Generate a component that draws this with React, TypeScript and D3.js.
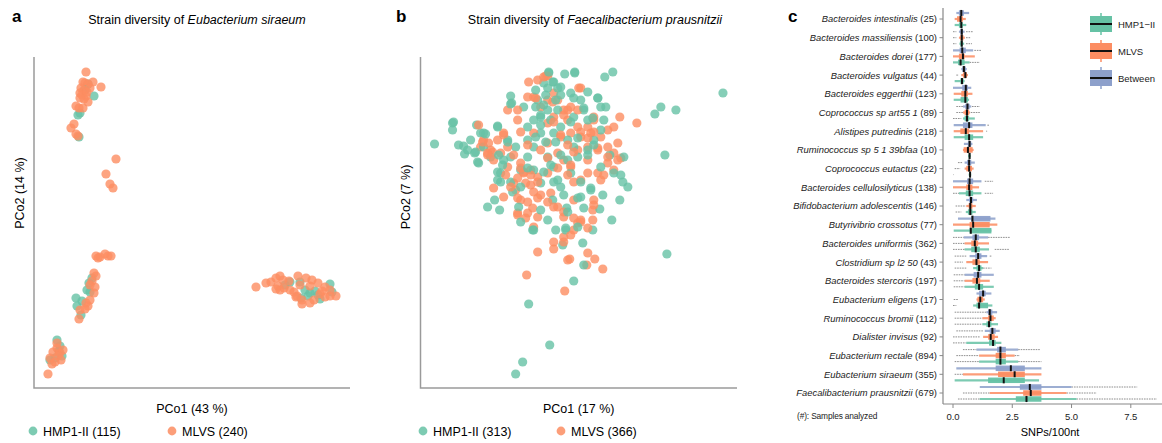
import React, { useRef, useEffect } from 'react';
import * as d3 from 'd3';

// ---------- panel a: E. siraeum PCoA scores (PCo1, PCo2) ----------
const hmpA: [number, number][] = [
  [0.54, 3.04], [0.60, 2.92], [0.44, 2.73], [0.45, 2.51], [0.51, 2.98], [0.46, 2.75],
  [0.58, 1.10], [0.55, 1.05], [0.42, 0.90], [0.53, 0.98], [0.43, 0.82], [0.47, 0.73], [0.48, 0.87], [0.56, 0.96],
  [0.23, 0.48], [0.26, 0.42], [0.16, 0.28], [0.21, 0.30], [0.28, 0.32], [0.25, 0.37],
  [2.56, 1.06], [2.66, 1.06], [2.71, 0.98], [2.76, 0.95], [2.81, 0.97], [2.84, 0.93], [2.86, 0.89],
  [2.96, 1.04], [2.98, 0.96], [2.67, 0.90], [2.51, 1.03], [2.74, 0.92],
];
const mlvsA: [number, number][] = [
  [0.52, 3.16], [0.49, 3.06], [0.51, 3.05], [0.54, 3.04], [0.59, 3.06], [0.67, 3.01], [0.47, 3.00],
  [0.50, 2.98], [0.46, 2.95], [0.48, 2.93], [0.52, 2.92], [0.50, 2.89], [0.54, 2.86], [0.42, 2.82],
  [0.45, 2.80], [0.49, 2.80], [0.40, 2.64], [0.37, 2.60], [0.42, 2.54], [0.44, 2.52], [0.46, 2.90],
  [0.53, 2.96], [0.56, 3.00],
  [0.82, 2.29], [0.72, 2.14], [0.76, 2.04], [0.79, 2.00],
  [0.62, 1.32], [0.66, 1.31], [0.71, 1.34], [0.74, 1.32], [0.77, 1.32], [0.64, 1.30], [0.60, 1.15],
  [0.62, 1.12], [0.58, 1.07], [0.56, 1.03], [0.61, 1.01], [0.60, 0.95], [0.56, 0.88], [0.52, 0.85],
  [0.54, 0.82], [0.51, 0.79], [0.46, 0.78], [0.45, 0.69],
  [0.23, 0.40], [0.19, 0.36], [0.26, 0.35], [0.29, 0.38], [0.24, 0.32], [0.16, 0.30], [0.18, 0.24],
  [0.27, 0.28], [0.14, 0.14], [0.23, 0.45], [0.21, 0.26],
  [2.22, 1.01], [2.32, 1.05], [2.37, 1.06], [2.42, 1.10], [2.46, 1.12], [2.49, 1.08], [2.44, 1.02],
  [2.50, 1.00], [2.55, 1.07], [2.64, 1.12], [2.72, 1.10], [2.78, 1.08], [2.84, 1.05], [2.91, 1.01],
  [2.96, 0.98], [3.02, 0.92], [2.96, 0.92], [2.91, 0.91], [2.86, 0.94], [2.80, 0.88], [2.76, 0.85],
  [2.68, 0.84], [2.63, 0.92], [2.68, 0.88], [2.56, 0.98], [2.60, 0.96], [2.46, 0.98], [2.42, 0.99],
  [2.66, 1.03], [2.76, 1.02], [2.88, 0.97], [2.62, 0.91],
];

// ---------- panel b: F. prausnitzii PCoA scores ----------
const hmpB: [number, number][] = [
  [0.14, 2.44], [0.32, 2.65], [0.32, 2.58], [0.43, 2.42], [0.44, 2.34], [3.02, 2.95], [2.40, 2.81],
  [2.34, 2.74], [2.55, 2.78], [2.44, 2.33], [2.46, 1.34], [1.92, 3.16], [1.84, 3.11], [1.44, 3.14],
  [1.54, 3.15], [1.28, 3.15], [1.08, 0.84], [1.29, 0.43], [1.02, 0.26], [0.95, 0.14], [1.53, 1.07],
  [1.63, 1.23], [1.62, 1.45], [1.42, 1.43], [1.99, 1.88], [1.91, 1.68], [2.07, 2.01], [2.02, 2.06],
  [2.00, 2.13], [2.03, 2.31], [1.89, 2.33], [1.82, 1.93], [1.79, 1.79], [1.72, 1.58], [0.67, 1.81],
  [0.79, 1.78], [0.74, 1.88], [0.90, 2.92], [0.91, 2.85], [0.56, 2.63], [0.77, 2.62], [0.60, 2.55],
  [0.54, 2.35], [0.58, 2.25], [0.80, 2.15], [0.90, 2.06], [0.98, 1.81], [1.12, 1.58], [1.20, 1.78],
  [1.27, 1.68], [1.35, 1.58], [1.45, 1.58], [1.46, 1.80], [1.32, 1.88], [1.60, 1.91], [1.70, 1.98],
  [1.40, 2.01], [1.33, 2.21], [1.20, 2.05], [1.07, 2.31], [1.13, 2.41], [1.20, 2.55], [1.07, 2.48],
  [1.03, 2.81], [1.17, 2.88], [1.23, 3.05], [1.33, 3.06], [1.40, 3.01], [1.50, 2.95], [1.60, 2.88],
  [1.77, 2.90], [1.80, 2.81], [1.85, 2.81], [1.63, 2.78], [1.53, 2.71], [1.37, 2.78], [1.27, 2.78],
  [1.20, 2.71], [1.33, 2.55], [1.47, 2.48], [1.53, 2.41], [1.67, 2.38], [1.80, 2.58], [1.83, 2.68],
  [1.73, 2.48], [0.95, 2.41], [0.83, 2.28], [0.70, 2.31], [0.63, 2.41], [0.47, 2.38], [0.63, 2.55],
  [1.80, 2.21], [1.93, 2.15], [1.47, 2.28], [1.37, 2.08], [1.50, 2.15], [1.13, 2.18], [1.00, 2.18],
  [0.90, 2.31], [0.77, 2.08], [0.87, 2.48], [1.27, 2.31], [1.07, 2.61], [1.40, 2.61], [1.67, 2.68],
  [1.57, 2.31], [1.13, 2.68], [1.25, 2.93], [1.35, 2.88], [1.30, 2.68], [1.15, 2.98], [0.50, 2.48],
  [0.38, 2.43],
  [1.28, 3.16], [1.54, 3.16], [0.90, 2.84], [0.33, 2.66], [0.55, 2.36], [0.57, 2.26], [0.65, 2.54],
  [0.77, 2.61], [0.87, 2.46], [0.78, 2.33], [0.82, 2.23], [0.77, 2.16], [0.80, 2.06], [0.92, 1.96],
  [1.00, 2.01], [1.07, 2.20], [1.15, 2.51], [1.20, 2.73], [1.23, 2.83], [1.15, 2.81], [1.27, 3.00],
  [1.32, 3.06], [1.37, 3.00], [1.40, 2.93], [1.20, 2.63], [1.25, 2.46], [1.35, 2.46], [1.40, 2.33],
  [1.30, 2.23], [1.23, 2.16], [1.33, 2.06], [1.43, 1.93], [1.57, 1.90], [1.47, 1.76], [1.60, 2.06],
  [1.67, 2.33], [1.73, 2.43], [1.57, 2.50], [1.50, 2.66], [1.63, 2.80], [1.53, 2.90], [1.67, 2.96],
  [1.77, 2.90], [1.72, 2.70], [1.70, 2.00], [1.63, 1.80], [1.57, 1.61], [1.45, 1.60], [1.13, 1.58],
  [1.00, 1.66],
];
const mlvsB: [number, number][] = [
  [2.16, 2.65], [1.99, 2.71], [1.93, 2.61], [1.97, 2.45], [1.93, 2.35], [2.00, 2.30], [1.87, 2.25],
  [1.93, 2.18], [1.77, 2.15], [1.83, 2.13], [1.73, 1.88], [1.72, 1.78], [1.72, 1.68], [1.60, 1.68],
  [1.57, 1.65], [1.53, 1.58], [1.82, 1.19], [1.74, 1.29], [1.66, 1.23], [1.67, 1.35], [1.49, 1.29],
  [1.47, 1.28], [1.44, 0.97], [1.33, 1.39], [1.17, 1.36], [1.06, 1.13], [1.13, 1.61], [1.12, 1.80],
  [1.17, 1.71], [1.07, 1.75], [0.97, 1.75], [1.00, 1.88], [0.83, 1.91], [0.73, 2.00], [0.93, 2.05],
  [1.03, 2.15], [1.00, 2.25], [1.10, 2.18], [1.17, 2.11], [1.27, 2.15], [1.30, 1.95], [1.37, 1.81],
  [1.43, 1.51], [1.43, 1.71], [1.53, 1.88], [1.60, 2.08], [1.67, 2.15], [1.50, 2.21], [1.43, 2.28],
  [1.57, 2.38], [1.67, 2.41], [1.77, 2.38], [1.87, 2.41], [1.80, 2.51], [1.70, 2.55], [1.60, 2.51],
  [1.50, 2.55], [1.40, 2.51], [1.47, 2.68], [1.57, 2.61], [1.67, 2.61], [1.73, 2.68], [1.87, 2.58],
  [1.43, 2.78], [1.33, 2.71], [1.27, 2.65], [1.20, 2.81], [1.13, 2.91], [1.07, 2.91], [1.08, 3.06],
  [1.17, 3.08], [1.23, 3.11], [1.27, 3.12], [1.27, 2.88], [1.33, 2.95], [1.37, 2.88], [1.50, 2.81],
  [1.60, 3.00], [1.57, 2.78], [0.97, 2.78], [0.87, 2.78], [0.97, 2.68], [0.83, 2.55], [0.77, 2.48],
  [0.70, 2.38], [0.80, 2.35], [0.87, 2.21], [0.63, 2.48], [0.60, 2.41], [0.67, 2.35], [0.73, 2.28],
  [0.58, 2.63], [1.13, 2.55], [1.20, 2.38], [1.27, 2.45], [1.37, 2.35], [1.67, 2.28], [1.87, 2.31],
  [1.97, 2.28], [1.80, 2.08], [1.05, 2.05], [0.95, 1.98], [1.10, 2.03], [0.85, 2.13], [1.20, 1.93],
  [1.25, 3.12], [1.15, 2.90], [1.32, 2.86], [1.47, 2.78], [1.58, 3.00], [1.73, 2.71], [0.62, 2.46],
  [0.68, 2.45], [0.72, 2.36], [0.67, 2.33], [0.83, 2.53], [0.87, 2.41], [0.93, 2.33], [1.00, 2.56],
  [1.07, 2.43], [1.00, 2.20], [1.03, 2.16], [1.10, 2.13], [0.97, 2.10], [1.17, 2.06], [1.13, 1.96],
  [1.17, 1.90], [0.97, 1.90], [1.07, 1.86], [0.90, 2.01], [1.27, 2.30], [1.37, 2.20], [1.50, 2.23],
  [1.47, 2.13], [1.53, 2.06], [1.40, 2.53], [1.47, 2.43], [1.53, 2.36], [1.60, 2.56], [1.67, 2.50],
  [1.73, 2.56], [1.77, 2.40], [1.43, 2.73], [1.33, 2.66], [1.27, 1.86], [1.33, 1.81], [1.43, 1.76],
  [1.53, 1.70], [1.50, 1.53], [1.60, 1.66], [1.67, 1.60], [1.73, 1.83], [0.97, 1.73], [1.05, 1.70],
  [1.33, 1.46], [1.43, 1.46],
];

// ---------- panel c: SNPs/100nt box stats [whiskerLo, q1, median, q3, whiskerHi] ----------
const species = [
  'Bacteroides intestinalis', 'Bacteroides massiliensis', 'Bacteroides dorei', 'Bacteroides vulgatus',
  'Bacteroides eggerthii', 'Coprococcus sp art55 1', 'Alistipes putredinis', 'Ruminococcus sp 5 1 39bfaa',
  'Coprococcus eutactus', 'Bacteroides cellulosilyticus', 'Bifidobacterium adolescentis',
  'Butyrivibrio crossotus', 'Bacteroides uniformis', 'Clostridium sp l2 50', 'Bacteroides stercoris',
  'Eubacterium eligens', 'Ruminococcus bromii', 'Dialister invisus', 'Eubacterium rectale',
  'Eubacterium siraeum', 'Faecalibacterium prausnitzii',
];
const nSamples = [25, 100, 177, 44, 123, 89, 218, 10, 22, 138, 146, 77, 362, 43, 197, 17, 112, 92, 894, 355, 679];

const betweenStats = [
  [0.14, 0.25, 0.35, 0.46, 0.68], [0.25, 0.31, 0.37, 0.42, 0.49], [0.0, 0.28, 0.39, 0.54, 0.85],
  [0.35, 0.39, 0.46, 0.54, 0.58], [0.0, 0.39, 0.54, 0.63, 0.77], [0.42, 0.52, 0.61, 0.7, 0.77],
  [0.03, 0.42, 0.68, 0.82, 1.38], [0.46, 0.63, 0.7, 0.77, 0.82], [0.49, 0.59, 0.68, 0.77, 0.92],
  [0.0, 0.59, 0.7, 0.85, 1.2], [0.56, 0.68, 0.76, 0.85, 1.01], [0.21, 0.77, 0.82, 1.58, 1.79],
  [0.45, 0.82, 0.96, 1.1, 1.48], [0.7, 0.94, 1.06, 1.2, 1.44], [0.49, 0.87, 1.06, 1.2, 1.72],
  [0.99, 1.1, 1.27, 1.38, 1.62], [1.41, 1.48, 1.55, 1.66, 1.86], [1.34, 1.55, 1.66, 1.8, 1.97],
  [0.99, 1.86, 2.0, 2.23, 2.75], [0.14, 1.8, 2.44, 3.03, 3.73], [1.13, 2.82, 3.24, 3.73, 5.0],
];
const mlvsStats = [
  [0.07, 0.17, 0.32, 0.42, 0.54], [0.25, 0.31, 0.37, 0.44, 0.5], [0.0, 0.25, 0.42, 0.49, 0.92],
  [0.35, 0.42, 0.52, 0.59, 0.63], [0.03, 0.35, 0.52, 0.63, 0.82], [0.42, 0.49, 0.59, 0.68, 0.72],
  [0.03, 0.31, 0.54, 0.68, 1.27], [0.42, 0.45, 0.63, 0.83, 0.87], [0.49, 0.56, 0.68, 0.8, 0.87],
  [0.0, 0.56, 0.68, 0.82, 1.1], [0.56, 0.66, 0.73, 0.82, 0.96], [0.0, 0.7, 0.85, 1.55, 1.87],
  [0.49, 0.77, 0.92, 1.06, 1.52], [0.56, 0.82, 0.99, 1.13, 1.48], [0.49, 0.82, 1.01, 1.15, 1.55],
  [0.99, 1.03, 1.15, 1.27, 1.34], [1.24, 1.48, 1.58, 1.72, 1.8], [1.27, 1.48, 1.59, 1.76, 1.9],
  [1.1, 1.8, 2.0, 2.23, 2.6], [0.42, 1.9, 2.6, 3.03, 3.73], [1.55, 2.96, 3.28, 3.73, 4.79],
];
const hmpStats = [
  [0.07, 0.25, 0.35, 0.42, 0.56], [0.27, 0.31, 0.37, 0.41, 0.47], [0.0, 0.21, 0.32, 0.49, 0.7],
  [0.07, 0.31, 0.38, 0.45, 0.49], [0.03, 0.32, 0.52, 0.63, 0.68], [0.42, 0.49, 0.59, 0.68, 0.92],
  [0.03, 0.49, 0.68, 0.85, 1.27], [0.64, 0.66, 0.7, 0.73, 0.75], [0.66, 0.68, 0.72, 0.75, 0.77],
  [0.25, 0.54, 0.7, 0.85, 1.2], [0.54, 0.63, 0.73, 0.82, 0.96], [0.03, 0.7, 0.75, 1.62, 1.62],
  [0.49, 0.77, 0.96, 1.13, 1.52], [0.85, 0.99, 1.1, 1.2, 1.27], [0.49, 0.92, 1.1, 1.27, 1.72],
  [0.85, 0.99, 1.1, 1.48, 1.66], [1.24, 1.41, 1.52, 1.62, 1.9], [0.56, 1.52, 1.69, 1.8, 2.04],
  [1.1, 1.8, 2.0, 2.23, 2.75], [0.07, 1.48, 2.14, 3.03, 3.63], [1.13, 2.65, 3.1, 3.73, 5.21],
];
// spans covered by (densely packed) outlier points
const betweenOut = [
  [], [[0.0, 0.14], [0.55, 0.85]], [[0.9, 1.2]], [], [], [[0.14, 0.42], [0.8, 1.13]], [[1.45, 1.52]], [],
  [[0.21, 0.42]], [[1.34, 1.69]], [], [], [[0.0, 0.45], [1.48, 2.39]], [[0.07, 0.56], [1.55, 1.62]],
  [[0.03, 0.49]], [], [[0.07, 1.41]], [[0.14, 1.27]], [[0.42, 0.99], [2.75, 3.66]], [], [[5.0, 7.77]],
];
const mlvsOut = [
  [], [[0.0, 0.14], [0.55, 0.75]], [], [[0.14, 0.25]], [], [[0.14, 0.42], [0.75, 1.13]], [[1.4, 1.44]], [],
  [[0.07, 0.3]], [], [[0.11, 0.54]], [], [[0.0, 0.49]], [[0.07, 0.42]], [[0.03, 0.49]], [[0.03, 0.21]],
  [[0.07, 1.24]], [[0.0, 1.13]], [[0.14, 1.1], [2.6, 2.82]], [[0.07, 0.42]], [[0.42, 1.55], [4.79, 6.06]],
];
const hmpOut = [
  [], [[0.0, 0.14], [0.55, 0.8]], [[0.7, 1.13]], [], [], [[0.0, 0.35]], [], [], [[0.0, 0.02]],
  [[0.0, 0.25], [1.34, 1.69]], [[0.11, 0.35]], [], [[0.0, 0.49], [1.76, 2.39]], [[0.07, 0.56], [1.27, 1.62]],
  [[0.03, 0.49]], [[0.0, 0.14]], [[0.07, 1.24]], [[0.0, 0.56]], [[0.07, 1.1], [2.75, 3.73]], [],
  [[0.21, 1.13], [5.21, 8.6]],
];
const snpTicks = [0, 2.5, 5, 7.5];

const GREEN = '#66c2a5';
const ORANGE = '#fc8d62';
const BLUE = '#8da0cb';
const FONT = '"Liberation Sans", Arial, Helvetica, sans-serif';

function scatterPanel(svg: any, o: any) {
  const x = d3.scaleLinear().domain([0, 3.16]).range([o.left, o.right]);
  const y = d3.scaleLinear().domain([0, 3.31]).range([388, 57]);
  const g = svg.append('g');

  g.append('text').attr('x', o.letterX).attr('y', 22).attr('font-size', 17).attr('font-weight', 'bold').text(o.letter);
  const t = g.append('text').attr('x', o.titleX).attr('y', 24).attr('font-size', 12.5).attr('text-anchor', 'middle');
  t.append('tspan').text('Strain diversity of ');
  t.append('tspan').attr('font-style', 'italic').text(o.species);

  // interleave the two cohorts so neither sits fully on top
  const pts: any[] = [];
  const n = Math.max(o.hmp.length, o.mlvs.length);
  for (let i = 0; i < n; i++) {
    if (o.mlvs[i]) pts.push({ p: o.mlvs[i], c: ORANGE });
    if (o.hmp[i]) pts.push({ p: o.hmp[i], c: GREEN });
  }
  g.selectAll('circle.pt').data(pts).enter().append('circle')
    .attr('cx', (d: any) => x(d.p[0])).attr('cy', (d: any) => y(d.p[1]))
    .attr('r', 4.6).attr('fill', (d: any) => d.c).attr('fill-opacity', 0.8);

  g.append('path').attr('d', `M${o.left},57V388H${o.right}`).attr('fill', 'none').attr('stroke', '#9a9a9a').attr('stroke-width', 1.5);

  g.append('text').attr('x', (o.left + o.right) / 2).attr('y', 413).attr('text-anchor', 'middle').attr('font-size', 12.5).text(o.xlab);
  g.append('text').attr('transform', `translate(${o.ylabX},${o.ylabY}) rotate(-90)`).attr('text-anchor', 'middle').attr('font-size', 12.5).text(o.ylab);

  o.legend.forEach((l: any) => {
    g.append('circle').attr('cx', l.x).attr('cy', 431).attr('r', 4.4).attr('fill', l.c).attr('fill-opacity', 0.85);
    g.append('text').attr('x', l.x + 10).attr('y', 435.5).attr('font-size', 12.5).text(l.t);
  });
}

export default function App() {
  const ref = useRef<SVGSVGElement>(null);

  useEffect(() => {
    if (!ref.current) return;
    const svg = d3.select(ref.current);
    svg.selectAll('*').remove();

    scatterPanel(svg, {
      left: 34, right: 350, letter: 'a', letterX: 12, titleX: 197, species: 'Eubacterium siraeum',
      hmp: hmpA, mlvs: mlvsA, xlab: 'PCo1 (43 %)', ylab: 'PCo2 (14 %)', ylabX: 24, ylabY: 193,
      legend: [{ x: 33, c: GREEN, t: 'HMP1-II (115)' }, { x: 172, c: ORANGE, t: 'MLVS (240)' }],
    });
    scatterPanel(svg, {
      left: 420.5, right: 737, letter: 'b', letterX: 396, titleX: 595, species: 'Faecalibacterium prausnitzii',
      hmp: hmpB, mlvs: mlvsB, xlab: 'PCo1 (17 %)', ylab: 'PCo2 (7 %)', ylabX: 410, ylabY: 197,
      legend: [{ x: 423, c: GREEN, t: 'HMP1-II (313)' }, { x: 561, c: ORANGE, t: 'MLVS (366)' }],
    });

    // ---------- panel c ----------
    const gc = svg.append('g');
    const x = d3.scaleLinear().domain([0, 7.5]).range([953, 1130.8]);
    const y = d3.scalePoint().domain(species).range([19, 393]);

    gc.append('text').attr('x', 788).attr('y', 22).attr('font-size', 17).attr('font-weight', 'bold').text('c');

    const groups = [
      { stats: betweenStats, out: betweenOut, c: BLUE, dy: -6 },
      { stats: mlvsStats, out: mlvsOut, c: ORANGE, dy: 0 },
      { stats: hmpStats, out: hmpOut, c: GREEN, dy: 6 },
    ];
    const bh = 5.5;
    species.forEach((s, i) => {
      const cy = y(s) as number;
      groups.forEach((gr) => {
        const yy = cy + gr.dy;
        const [lo, q1, md, q3, hi] = gr.stats[i];
        (gr.out[i] as number[][]).forEach(([a, b]) => {
          gc.append('line').attr('x1', x(a)).attr('x2', x(b)).attr('y1', yy).attr('y2', yy)
            .attr('stroke', '#555').attr('stroke-width', 1).attr('stroke-dasharray', '1.6,0.9').attr('opacity', 0.65);
        });
        gc.append('line').attr('x1', x(lo)).attr('x2', x(hi)).attr('y1', yy).attr('y2', yy)
          .attr('stroke', gr.c).attr('stroke-width', 2.2).attr('opacity', 0.85);
        gc.append('rect').attr('x', x(q1)).attr('width', Math.max(1, x(q3) - x(q1)))
          .attr('y', yy - bh / 2).attr('height', bh).attr('fill', gr.c).attr('fill-opacity', 0.95);
        gc.append('line').attr('x1', x(md)).attr('x2', x(md)).attr('y1', yy - bh / 2 - 0.3).attr('y2', yy + bh / 2 + 0.3)
          .attr('stroke', '#111').attr('stroke-width', 2);
      });
    });

    // left axis with species labels
    gc.append('line').attr('x1', 943).attr('x2', 943).attr('y1', 8).attr('y2', 404).attr('stroke', '#888').attr('stroke-width', 1.2);
    species.forEach((s, i) => {
      const cy = y(s) as number;
      gc.append('line').attr('x1', 939.5).attr('x2', 943).attr('y1', cy).attr('y2', cy).attr('stroke', '#888');
      const t = gc.append('text').attr('x', 937).attr('y', cy + 3.4).attr('text-anchor', 'end').attr('font-size', 9.4).attr('fill', '#222');
      t.append('tspan').attr('font-style', 'italic').text(s);
      t.append('tspan').text(` (${nSamples[i]})`);
    });

    // bottom axis
    gc.append('line').attr('x1', 943).attr('x2', 1162).attr('y1', 404).attr('y2', 404).attr('stroke', '#888').attr('stroke-width', 1.2);
    snpTicks.forEach((v) => {
      gc.append('line').attr('x1', x(v)).attr('x2', x(v)).attr('y1', 404).attr('y2', 408).attr('stroke', '#888');
      gc.append('text').attr('x', x(v)).attr('y', 420).attr('text-anchor', 'middle').attr('font-size', 9.5).attr('fill', '#222').text(d3.format('.1f')(v));
    });
    gc.append('text').attr('x', 1050).attr('y', 436).attr('text-anchor', 'middle').attr('font-size', 11).text('SNPs/100nt');
    gc.append('text').attr('x', 797).attr('y', 419).attr('font-size', 8.4).attr('letter-spacing', -0.15).attr('fill', '#222').text('(#): Samples analyzed');

    // legend
    const leg = [
      { t: 'HMP1\u2212II', c: GREEN }, { t: 'MLVS', c: ORANGE }, { t: 'Between', c: BLUE },
    ];
    leg.forEach((l, i) => {
      const cy = 24 + i * 27;
      gc.append('line').attr('x1', 1101).attr('x2', 1101).attr('y1', cy - 11).attr('y2', cy + 11).attr('stroke', l.c).attr('stroke-width', 1.5);
      gc.append('rect').attr('x', 1090).attr('y', cy - 8).attr('width', 22).attr('height', 16).attr('fill', l.c);
      gc.append('line').attr('x1', 1090).attr('x2', 1112).attr('y1', cy).attr('y2', cy).attr('stroke', '#111').attr('stroke-width', 2);
      gc.append('text').attr('x', 1118).attr('y', cy + 3.5).attr('font-size', 9.5).attr('fill', '#222').text(l.t);
    });
  }, []);

  return (
    <svg
      ref={ref}
      width={1162}
      height={443}
      fontFamily={FONT}
      style={{ position: 'absolute', left: 0, top: 0, background: '#fff' }}
    />
  );
}
